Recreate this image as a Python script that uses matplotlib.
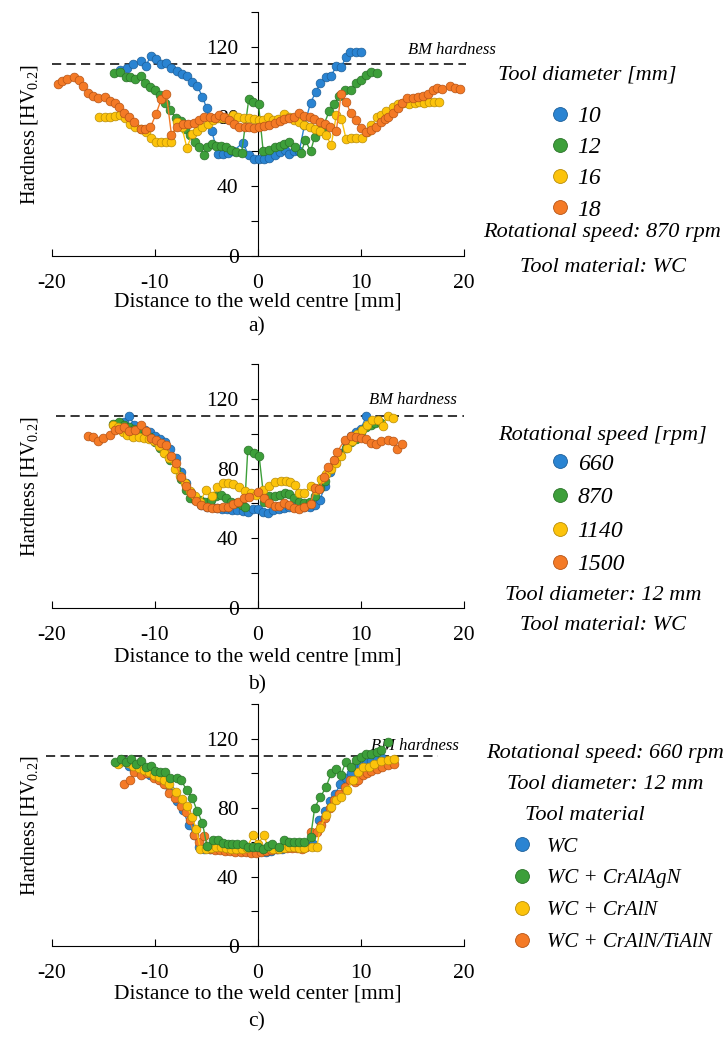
import matplotlib
matplotlib.use("Agg")
from matplotlib import pyplot as plt
from matplotlib.lines import Line2D
from matplotlib.font_manager import FontProperties

plt.rcParams['font.family'] = 'Liberation Serif'
plt.rcParams['mathtext.fontset'] = 'custom'
plt.rcParams['mathtext.rm'] = 'Liberation Serif'
plt.rcParams['mathtext.it'] = 'Liberation Serif:italic'
plt.rcParams['axes.unicode_minus'] = False

colors = ['#2a84d2', '#3d9f3a', '#fcc30b', '#f47a26']
edges = ['#1d5f99', '#2a7229', '#b88c08', '#b65416']
bm_hardness = 110

# ---- a) tool diameter
a_labels = ['10', '12', '16', '18']
a_x10 = [-13.4, -12.7, -12.1, -11.4, -10.9, -10.4, -9.9, -9.4, -8.9, -8.4, -7.9, -7.4, -6.9, -6.4, -5.9, -5.4,
         -5.0, -4.5, -3.9, -3.4, -2.9, -2.4, -1.5, -0.9, -0.4, 0.1, 0.6, 1.1, 1.6, 2.1, 2.6, 3.0, 3.5, 4.0,
         4.5, 5.1, 5.6, 6.0, 6.6, 7.1, 7.6, 8.1, 8.5, 8.9, 9.5, 10.0]
a_y10 = [107, 108, 110, 112, 109, 115, 113, 110, 110.5, 108, 106, 104.5, 103.5, 100, 97.5, 91.5,
         85, 72, 58.5, 58.5, 59, 60, 65, 58, 55.5, 55.5, 55.5, 56.5, 58, 59.5, 61, 58.5, 60.5, 60,
         75, 88, 94, 99, 102.5, 103.5, 109, 108.5, 114, 117, 117, 117]
a_x12 = [-14.0, -13.4, -12.8, -12.4, -11.9, -11.4, -11.0, -10.5, -10.0, -9.5, -9.0, -8.5, -8.0, -7.5, -7.1,
         -6.6, -6.1, -5.7, -5.2, -4.95, -4.5, -4.05, -3.55, -3.1, -2.6, -2.1, -1.6, -0.9, -0.45, 0.05,
         0.5, 1.1, 1.6, 2.1, 2.55, 3.0, 3.6, 4.15, 4.6, 5.1, 5.5, 5.9, 6.3, 6.9, 7.4, 7.9, 8.4, 9.0,
         9.5, 10.0, 10.5, 11.0, 11.5]
a_y12 = [104.8, 105.7, 102.9, 102.5, 101.4, 103.3, 99.1, 97.1, 95.2, 92.4, 88, 83.8, 79, 77.6, 72.7,
         69.4, 65.6, 62.7, 58, 62.7, 64.3, 63.1, 63.1, 62.3, 60.8, 59.8, 58.9, 90, 88.5, 87,
         60, 61, 62.5, 63, 64.5, 65.5, 62.5, 59, 66.5, 60, 68.5, 71.5, 74, 83, 87.5, 92, 95, 95,
         99, 101, 104, 105.5, 105]
a_x16 = [-15.4, -14.9, -14.4, -13.9, -13.4, -12.9, -12.4, -11.9, -11.4, -10.9, -10.4, -9.9, -9.4, -8.9,
         -8.4, -7.9, -7.4, -6.9, -6.4, -5.9, -5.4, -4.9, -4.4, -3.9, -3.4, -2.9, -2.4, -1.9, -1.4, -0.9,
         -0.4, 0.05, 0.5, 0.95, 1.45, 1.9, 2.55, 3.05, 3.5, 4.0, 4.5, 5.0, 5.5, 6.0, 6.6, 7.1, 7.6, 8.1,
         8.55, 9.0, 9.5, 10.1, 10.6, 11.0, 11.5, 11.9, 12.4, 13.1, 13.6, 14.1, 14.7, 15.2, 15.6, 16.1,
         16.6, 17.1, 17.6]
a_y16 = [80, 80, 80, 80.5, 81, 79, 76, 74, 73, 71, 68, 65.5, 65.5, 65.5,
         65.5, 77, 74, 62, 70, 72, 74, 76, 78, 79, 79, 79, 81, 79.5, 79, 79,
         78.5, 78, 78, 79.5, 78, 78.5, 81.5, 79.5, 78, 77, 75, 74, 73, 72, 69.5, 63.5, 81, 78.5,
         67, 67.5, 68, 68, 71, 75, 79.5, 81, 83, 85.5, 87.5, 88, 87.5, 88, 88.5, 88,
         88.5, 88.5, 88.5]
a_x18 = [-19.45, -19.0, -18.5, -17.9, -17.4, -17.0, -16.5, -16.0, -15.5, -14.9, -14.4, -13.9, -13.5, -13.0,
         -12.5, -12.0, -11.4, -11.0, -10.45, -9.9, -9.4, -8.9, -8.4, -7.9, -7.3, -6.8, -6.25, -5.7, -5.2,
         -4.7, -4.2, -3.75, -3.3, -2.8, -2.3, -1.8, -1.3, -0.84, -0.35, 0.13, 0.6, 1.1, 1.6, 2.1, 2.56,
         3.0, 3.5, 4.0, 4.5, 5.0, 5.47, 6.05, 6.5, 7.0, 7.6, 8.06, 8.54, 9.0, 9.5, 10.0, 10.5, 11.0,
         11.45, 11.9, 12.3, 12.6, 13.1, 13.6, 14.0, 14.5, 15.0, 15.5, 16.0, 16.5, 17.0, 17.4, 17.9,
         18.6, 19.1, 19.6]
a_y18 = [98.7, 100.6, 101.3, 102.9, 101, 97.5, 93.7, 91.8, 90.4, 91, 89.1, 87.6, 85.7, 81.8,
         79.9, 77, 72.7, 72.7, 73.8, 81.5, 89.9, 92.9, 69.4, 74.2, 75.7, 75.7, 76.5, 78, 79.9,
         79.9, 79, 80.9, 80, 78, 75.7, 74.2, 74, 74, 73.5, 73.8, 74.5, 75, 76.1, 77.5, 78.4,
         79, 79.9, 81.8, 80.5, 79.5, 78.4, 77, 75.7, 74.2, 71.9, 92.9, 88.5, 81.8, 78, 73.2, 71.3, 72.3,
         74.2, 77, 78.5, 79.9, 82, 84.7, 88, 90.4, 90.5, 91, 92, 92.9, 95.2, 96.7, 96,
         97.5, 96.7, 95.6]

# ---- b) rotational speed
b_labels = ['660', '870', '1140', '1500']
b_x660 = [-13.5, -13.0, -12.5, -12.0, -11.5, -11.0, -10.5, -10.0, -9.5, -9.0, -8.5, -8.0, -7.5, -7.0, -6.5,
          -6.0, -5.5, -5.0, -4.5, -4.0, -3.5, -3.0, -2.5, -2.0, -1.5, -1.0, -0.5, 0.0, 0.5, 1.0, 1.5, 2.0,
          2.5, 3.0, 3.5, 4.0, 4.5, 5.0, 5.5, 6.0, 6.5, 7.0, 7.5, 8.0, 8.5, 9.0, 9.5, 10.0, 10.5]
b_y660 = [106, 107, 110, 105, 103, 102, 101, 99, 97, 95, 91, 86, 78, 72, 66,
          62, 59, 58, 58, 57.5, 57, 57, 56.5, 56, 55.5, 55, 57, 57, 55, 54.5, 56, 57,
          57.5, 58, 58, 58, 58, 58, 59, 62, 70, 78, 84, 89, 95, 99, 101, 103, 110]
b_x870 = [-14.1, -13.5, -13.0, -12.5, -12.0, -11.5, -11.0, -10.5, -10.0, -9.5, -9.0, -8.5, -8.0, -7.5, -7.0,
          -6.6, -6.1, -5.6, -5.1, -4.6, -4.1, -3.6, -3.1, -2.6, -2.1, -1.6, -1.3, -1.0, -0.4, 0.1,
          0.6, 1.1, 1.6, 2.1, 2.6, 3.0, 3.5, 4.0, 4.5, 5.0, 5.5, 6.0, 6.5, 7.0, 7.5, 8.0, 8.5, 9.0,
          9.5, 10.0, 10.5, 11.0, 11.4, 11.9]
b_y870 = [105.5, 106.5, 105, 104, 103, 102, 100, 98, 95, 92, 89, 85, 80, 74, 68,
          63, 62, 62, 61, 62, 64, 65, 63, 61, 60, 59, 58, 90.5, 89, 87.5,
          61, 64, 64.5, 65, 66, 65.5, 63, 61, 60, 61, 64, 69, 73, 80, 85, 88, 92, 95,
          97, 101, 104, 105, 106, 106]
b_x1140 = [-14.1, -13.6, -13.1, -12.7, -12.1, -11.6, -11.1, -10.6, -10.1, -9.6, -9.1, -8.6, -8.1, -7.6, -7.1,
           -6.6, -6.1, -5.6, -5.05, -4.5, -4.0, -3.4, -2.9, -2.4, -1.8, -1.26, -0.7, -0.2, 0.45, 1.1,
           1.6, 2.2, 2.7, 3.1, 3.6, 4.0, 4.5, 5.1, 5.6, 6.1, 6.6, 7.1, 7.6, 8.1, 8.6, 9.1, 9.6, 10.1,
           10.6, 11.1, 11.6, 12.1, 12.6, 13.1]
b_y1140 = [105, 104, 101, 99.3, 98, 98, 97.5, 97, 96, 93, 89, 86, 80, 76, 72,
           67, 64, 61, 68, 64, 69.5, 72, 72, 71, 69.5, 67, 66, 65, 68, 70,
           72.5, 73, 73, 72.5, 70.5, 66, 66, 70, 68, 74, 77, 80, 83, 87, 92, 96, 100, 102,
           105, 108, 108, 104.5, 110, 109]
b_x1500 = [-16.5, -16.0, -15.5, -15.0, -14.4, -13.9, -13.5, -13.0, -12.5, -11.9, -11.4, -10.9, -10.4, -9.9,
           -9.4, -8.9, -8.4, -8.0, -7.5, -7.0, -6.5, -6.0, -5.5, -5.0, -4.5, -4.0, -3.4, -2.9, -2.4, -1.9,
           -1.33, -0.84, 0.03, 0.55, 1.1, 1.6, 2.07, 2.56, 3.0, 3.5, 4.0, 4.5, 5.1, 5.5, 5.95, 6.4, 6.8,
           7.4, 7.7, 8.4, 9.0, 9.5, 10.0, 10.5, 11.0, 11.45, 11.9, 12.6, 13.1, 13.5, 14.0]
b_y1500 = [98.7, 98, 96.1, 97.4, 99.3, 102.2, 102.8, 103.7, 101.8, 102.2, 105, 101.8, 97.4, 96.4,
           94.5, 93.6, 87.3, 83, 75, 70, 65.8, 61.6, 59.1, 58.2, 57.2, 57.2, 57.8, 58.2, 59.7, 61,
           63, 63.9, 66.8, 63, 60, 58.6, 58.6, 60, 59, 57.2, 56.6, 57.8, 59.7, 68.7, 68.1, 75.4, 81.1,
           85, 89.7, 96.4, 98.7, 98, 97.4, 97, 94.5, 94.1, 96.1, 96.4, 96.1, 91.1, 94.1]

# ---- c) tool material
c_labels = ['WC', 'WC + CrAlAgN', 'WC + CrAlN', 'WC + CrAlN/TiAlN']
c_xwc = [-13.5, -13.0, -12.5, -12.0, -11.5, -11.0, -10.5, -10.0, -9.5, -9.0, -8.5, -7.9, -7.3, -6.7, -6.2,
         -5.7, -5.2, -4.7, -4.2, -3.7, -3.2, -2.7, -2.2, -1.7, -1.2, -0.7, -0.2, 0.3, 0.8, 1.3,
         1.8, 2.3, 2.8, 3.3, 3.8, 4.3, 4.8, 5.3, 5.95, 6.5, 7.0, 7.5, 8.0, 8.5, 9.0, 9.5, 10.0, 10.5,
         11.0, 11.5, 12.0]
c_ywc = [106, 107, 104, 102, 101, 100, 99, 98, 96, 94, 90, 84, 78.5, 70, 64,
         57, 56, 56, 56.5, 57, 57, 56, 55.5, 55, 55, 55, 55.5, 55, 54.5, 55,
         56, 56, 57, 57, 57, 57, 58, 59, 72.7, 78, 84, 88, 94, 97, 100, 103, 104, 106,
         107, 108, 109]
c_xagn = [-13.9, -13.3, -12.8, -12.3, -11.8, -11.4, -10.9, -10.4, -10.0, -9.5, -9.0, -8.5, -7.9, -7.5, -6.9,
          -6.4, -5.9, -5.4, -4.95, -4.4, -3.9, -3.4, -2.9, -2.5, -2.0, -1.5, -1.0, -0.5, 0.0, 0.45,
          0.94, 1.4, 2.07, 2.56, 3.04, 3.5, 4.0, 4.5, 5.1, 5.5, 6.05, 6.6, 7.1, 7.6, 8.06, 8.5, 9.0,
          9.5, 10.0, 10.5, 11.0, 11.5, 11.9, 12.6]
c_yagn = [106.3, 108.3, 106.3, 108.3, 105.4, 106.9, 103.5, 104.4, 101.2, 100.6, 100.6, 97.3, 97.3, 96.2, 90,
          85.8, 78.1, 71.2, 57.7, 61.2, 61.2, 59.6, 58.8, 58.8, 58.8, 58.8, 57.3, 57.3, 57.3, 56.3,
          57.7, 59.2, 57.3, 61.5, 60.2, 60.2, 60.2, 60.2, 63, 80, 86.2, 91.9, 100, 102.5, 99.2, 106.3, 103.8,
          107.7, 109.6, 110.8, 111, 112, 113.5, 117.9]
c_xaln = [-13.6, -13.1, -12.6, -12.1, -11.6, -11.1, -10.6, -10.1, -9.6, -9.1, -8.6, -7.95, -7.4, -6.9, -6.4,
          -6.0, -5.6, -5.05, -4.6, -4.1, -3.6, -3.1, -2.6, -2.1, -1.6, -1.1, -0.5, 0.0, 0.55, 1.0,
          1.5, 2.0, 2.5, 3.0, 3.5, 4.0, 4.5, 5.2, 5.7, 6.05, 6.6, 7.1, 7.6, 8.06, 8.6, 9.2, 9.7,
          10.2, 10.8, 11.3, 11.9, 12.6, 13.2]
c_yaln = [105.4, 107, 106, 104, 103, 102, 100.6, 99, 97.5, 96, 93.8, 89, 85, 80.8, 74.6,
          67.9, 56.3, 56.3, 56.5, 57.3, 57, 56.5, 56, 56, 56, 56.5, 64, 59, 64, 57,
          56, 56, 56.5, 57, 57, 56.5, 56.5, 57.3, 57.3, 68.5, 75.6, 80.4, 84.2, 86.2, 90, 95.8, 100.6,
          103.5, 103.5, 105.4, 107.3, 107.7, 108.3]
c_xtialn = [-13.0, -12.4, -12.0, -11.4, -10.8, -10.1, -9.6, -9.1, -8.6, -8.06, -7.5, -7.0, -6.6, -6.2, -5.7,
            -5.2, -4.7, -4.2, -3.7, -3.2, -2.7, -2.2, -1.7, -1.2, -0.7, -0.2, 0.3, 0.8, 1.3, 1.8,
            2.3, 2.8, 3.3, 3.8, 4.3, 4.7, 5.15, 5.7, 6.1, 6.5, 7.0, 7.4, 7.9, 8.4, 8.9, 9.4, 9.7,
            10.2, 10.6, 11.0, 11.5, 12.0, 12.6, 13.2]
c_ytialn = [93.8, 96.2, 100.6, 99.2, 100, 97.3, 96.2, 93.5, 88.5, 85.8, 80.8, 77.5, 72.7, 64, 60,
            63.5, 56, 55.5, 55.5, 55, 55, 54.5, 54.5, 54.5, 54, 53.8, 54.5, 55, 55.5, 56,
            56.5, 56.5, 56.5, 56.5, 56, 57, 66, 66, 70, 74, 80, 84.6, 88, 92, 95.8, 95, 96.2,
            99, 100, 101.5, 102.5, 103.5, 105, 105.4]

fig = plt.figure(figsize=(7.23, 10.39), dpi=100)


def panel(rect, xs, ys, zorders, xlabel, xlabel_y, tag, tag_y, bm_x, bm_text_xy):
    ax = fig.add_axes(rect)
    for i in range(4):
        ax.plot(xs[i], ys[i], '-o', color=colors[i], lw=1.0, ms=6.3, mfc=colors[i],
                mec=edges[i], mew=0.5, zorder=zorders[i], clip_on=False)
    ax.hlines(bm_hardness, bm_x[0], bm_x[1], colors='black', linestyles=(0, (6, 3.5)), lw=1.1,
              zorder=1, clip_on=False)
    ax.text(bm_text_xy[0], bm_text_xy[1], 'BM hardness', style='italic', fontsize=12,
            va='center', ha='left', clip_on=False)
    ax.set_xlim(-20, 20)
    ax.set_ylim(0, 140)
    ax.spines['left'].set_position(('data', 0))
    ax.spines['right'].set_visible(False)
    ax.spines['top'].set_visible(False)
    ax.set_xticks([-20, -10, 0, 10, 20])
    ax.set_yticks([0, 20, 40, 60, 80, 100, 120, 140])
    ax.set_yticklabels(['0', '', '40', '', '80', '', '120', ''])
    ax.tick_params(axis='x', direction='in', length=5, pad=13, labelsize=15.5)
    ax.tick_params(axis='y', direction='out', length=5, pad=9, labelsize=15.5)
    ax.patch.set_visible(False)
    ax.set_xlabel(xlabel, fontsize=15.5, va='center')
    ax.xaxis.set_label_coords(0.5, xlabel_y)
    ax.set_ylabel('Hardness [HV$_{0.2}$]', fontsize=14.5)
    ax.yaxis.set_label_coords(-0.03, 0.5)
    fig.text(257 / 723, tag_y, tag, ha='center', va='center', fontsize=15.5)
    return ax


def handles():
    return [Line2D([], [], ls='none', marker='o', ms=10, mfc=colors[i], mec=edges[i], mew=0.6)
            for i in range(4)]


note = dict(ha='center', va='center', style='italic', fontsize=16)

# a)
panel([0.0719, 0.7536, 0.570, 0.2348], [a_x10, a_x12, a_x16, a_x18], [a_y10, a_y12, a_y16, a_y18],
      [3, 4, 5, 6], 'Distance to the weld centre [mm]', -0.188, 'a)', 0.685, (-20, 20.2), (14.6, 118))
fig.legend(handles(), a_labels, loc='center left', bbox_to_anchor=(0.758, 0.843), frameon=False,
           prop=FontProperties(family='Liberation Serif', style='italic', size=17),
           handlelength=1.0, handletextpad=0.25, labelspacing=0.41, borderpad=0, borderaxespad=0)
fig.text(0.812, 0.928, 'Tool diameter [mm]', **note)
fig.text(0.833, 0.776, 'Rotational speed: 870 rpm', **note)
fig.text(0.834, 0.743, 'Tool material: WC', **note)

# b)
panel([0.0719, 0.4148, 0.570, 0.2348], [b_x660, b_x870, b_x1140, b_x1500], [b_y660, b_y870, b_y1140, b_y1500],
      [3, 4, 5, 6], 'Distance to the weld centre [mm]', -0.2, 'b)', 0.341, (-19.6, 20), (10.8, 119.4))
fig.legend(handles(), b_labels, loc='center left', bbox_to_anchor=(0.758, 0.505), frameon=False,
           prop=FontProperties(family='Liberation Serif', style='italic', size=17),
           handlelength=1.0, handletextpad=0.25, labelspacing=0.51, borderpad=0, borderaxespad=0)
fig.text(0.834, 0.581, 'Rotational speed [rpm]', **note)
fig.text(0.834, 0.427, 'Tool diameter: 12 mm', **note)
fig.text(0.834, 0.398, 'Tool material: WC', **note)

# c)
panel([0.0719, 0.0895, 0.570, 0.2329], [c_xwc, c_xagn, c_xaln, c_xtialn], [c_ywc, c_yagn, c_yaln, c_ytialn],
      [3, 6, 5, 4], 'Distance to the weld center [mm]', -0.2, 'c)', 0.0164, (-20.6, 17.5), (11.0, 116))
fig.legend(handles(), c_labels, loc='center left', bbox_to_anchor=(0.7076, 0.139), frameon=False,
           prop=FontProperties(family='Liberation Serif', style='italic', size=15),
           handlelength=1.0, handletextpad=0.7, labelspacing=0.59, borderpad=0, borderaxespad=0)
fig.text(0.837, 0.275, 'Rotational speed: 660 rpm', **note)
fig.text(0.837, 0.245, 'Tool diameter: 12 mm', **note)
fig.text(0.809, 0.215, 'Tool material', **note)

fig.savefig('out.png', dpi=100)
